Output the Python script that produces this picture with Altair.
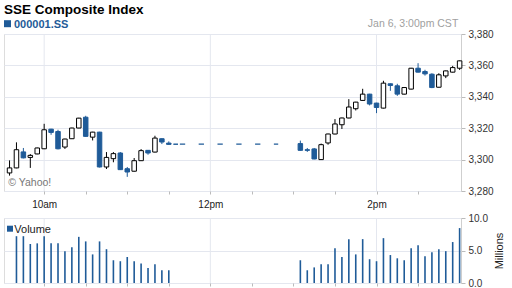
import altair as alt
import pandas as pd

BLUE = "#1f5b98"
GRID = "#e4e7ef"
FRAME = "#cfcfcf"

# ---- data ----
candle_times = ["9:35", "9:40", "9:45", "9:50", "9:55", "10:00", "10:05", "10:10", "10:15", "10:20",
                "10:25", "10:30", "10:35", "10:40", "10:45", "10:50", "10:55", "11:00", "11:05", "11:10",
                "11:15", "11:20", "11:25", "11:30", "11:35",
                "13:05", "13:10", "13:15", "13:20", "13:25", "13:30", "13:35", "13:40", "13:45", "13:50",
                "13:55", "14:00", "14:05", "14:10", "14:15", "14:20", "14:25", "14:30", "14:35", "14:40",
                "14:45", "14:50", "14:55", "15:00"]
opens = [3291.5, 3294.7, 3304.9, 3301.4, 3303.6, 3306.9, 3319.4, 3317.9, 3308.0, 3313.3,
         3320.1, 3327.0, 3314.3, 3317.5, 3295.3, 3300.6, 3304.2, 3294.2, 3292.6, 3299.3,
         3305.9, 3304.8, 3313.3, 3310.5, 3309.8,
         3310.2, 3306.3, 3306.8, 3300.0, 3310.6, 3316.3, 3322.2, 3326.5, 3332.4, 3337.7,
         3341.7, 3336.0, 3332.8, 3348.3, 3347.0, 3341.7, 3344.9, 3358.2, 3356.1, 3354.4,
         3346.1, 3353.3, 3355.7, 3358.2]
highs = [3299.5, 3311.0, 3307.4, 3303.5, 3307.6, 3322.8, 3319.6, 3319.0, 3313.3, 3320.3,
         3326.6, 3327.9, 3317.7, 3317.7, 3304.8, 3304.8, 3304.8, 3295.3, 3301.0, 3306.7,
         3306.1, 3315.2, 3313.5, 3311.6, 3309.8,
         3312.1, 3307.4, 3307.4, 3310.2, 3316.5, 3325.8, 3326.7, 3338.5, 3336.8, 3345.1,
         3341.9, 3336.2, 3350.2, 3348.5, 3348.3, 3346.1, 3358.4, 3361.4, 3357.2, 3355.0,
         3355.0, 3356.7, 3359.7, 3363.1]
lows = [3289.8, 3294.5, 3300.8, 3294.7, 3303.4, 3306.7, 3315.8, 3306.5, 3306.8, 3313.1,
        3320.0, 3314.6, 3312.2, 3295.0, 3294.0, 3298.3, 3293.4, 3289.0, 3292.4, 3299.1,
        3303.1, 3304.6, 3309.9, 3309.5, 3309.8,
        3305.7, 3304.9, 3300.2, 3299.8, 3309.5, 3316.1, 3319.5, 3326.3, 3331.3, 3337.5,
        3334.5, 3329.6, 3332.6, 3343.8, 3340.6, 3341.5, 3344.7, 3355.5, 3353.5, 3345.5,
        3346.0, 3351.9, 3355.5, 3357.1]
closes = [3294.7, 3306.3, 3301.1, 3302.7, 3307.4, 3319.0, 3317.3, 3306.9, 3313.1, 3320.1,
          3326.4, 3314.8, 3317.5, 3295.3, 3301.4, 3303.8, 3293.6, 3292.1, 3299.3, 3305.7,
          3304.2, 3313.7, 3311.2, 3309.7, 3309.8,
          3305.9, 3305.9, 3300.4, 3309.5, 3316.3, 3322.7, 3326.5, 3333.5, 3336.6, 3341.7,
          3335.4, 3333.2, 3348.7, 3347.2, 3341.7, 3345.9, 3358.2, 3355.7, 3354.6, 3345.9,
          3354.0, 3356.5, 3358.6, 3362.9]

volume_times = ["9:40", "9:45", "9:50", "9:55", "10:00", "10:05", "10:10", "10:15", "10:20", "10:25",
                "10:30", "10:35", "10:40", "10:45", "10:50", "10:55", "11:00", "11:05", "11:10", "11:15",
                "11:20", "11:25", "11:30",
                "13:05", "13:10", "13:15", "13:20", "13:25", "13:30", "13:35", "13:40", "13:45", "13:50",
                "13:55", "14:00", "14:05", "14:10", "14:15", "14:20", "14:25", "14:30", "14:35", "14:40",
                "14:45", "14:50", "14:55", "15:00"]
volumes = [7.2, 7.2, 6.0, 6.1, 7.2, 6.1, 6.1, 4.9, 5.5, 7.1,
           6.4, 4.4, 6.4, 5.2, 3.5, 3.35, 4.0, 3.35, 3.0, 2.3,
           2.9, 1.96, 1.96,
           3.5, 1.96, 2.4, 2.9, 2.9, 5.36, 4.0, 6.75, 4.4, 6.75,
           3.66, 3.35, 6.9, 4.3, 3.8, 3.5, 5.36, 5.8, 4.1, 4.74,
           5.2, 4.9, 6.3, 8.45]

grid_times = ["10:00", "12:00", "14:00"]
tick_times = ["10:00", "10:30", "11:00", "11:30", "12:00", "12:30", "13:00", "13:30", "14:00", "14:30"]
price_ticks = [3280, 3300, 3320, 3340, 3360, 3380]
volume_ticks = [0, 5, 10]
lunch_start, lunch_end, lunch_level = "11:38", "12:49", 3309.8


def to_min(s):
    h, m = s.split(":")
    return int(h) * 60 + int(m)


candles = pd.DataFrame({
    "t": [to_min(s) for s in candle_times],
    "open": opens, "high": highs, "low": lows, "close": closes,
})
candles["dir"] = ["up" if c > o else "down" for o, c in zip(opens, closes)]
vol_df = pd.DataFrame({"t": [to_min(s) for s in volume_times], "vol": volumes})
grid_df = pd.DataFrame({"t": [to_min(s) for s in grid_times]})
lunch_df = pd.DataFrame({"t": [to_min(lunch_start)], "t2": [to_min(lunch_end)], "level": [lunch_level]})
one = pd.DataFrame({"a": [0]})

W = 457
xs = alt.Scale(domain=[571, 901], nice=False, zero=False, padding=0)
ys = alt.Scale(domain=[3280, 3380], nice=False, zero=False, padding=0)
vs = alt.Scale(domain=[0, 10], nice=False, zero=True, padding=0)
tick_vals = [to_min(s) for s in tick_times]

x_axis_top = alt.Axis(values=tick_vals, grid=False, domain=False, tickSize=3, tickColor="#bbbbbb",
                      labelExpr="datum.value == 600 ? '10am' : datum.value == 720 ? '12pm' : datum.value == 840 ? '2pm' : ''",
                      labelFontSize=10, labelColor="#222222", labelPadding=5, labelOverlap=False,
                      labelFlush=False, title=None)
x_axis_vol = alt.Axis(values=tick_vals, grid=False, domain=False, tickSize=3, tickColor="#bbbbbb",
                      labels=False, title=None)
y_axis_top = alt.Axis(orient="right", values=price_ticks, format=",.0f", grid=True, gridColor=GRID,
                      domainColor=FRAME, tickColor="#bbbbbb", tickSize=4, labelPadding=3,
                      labelFontSize=10, labelColor="#333333", title=None)
y_axis_vol = alt.Axis(orient="right", values=volume_ticks, format=".1f", grid=True, gridColor=GRID,
                      domainColor=FRAME, tickColor="#bbbbbb", tickSize=4, labelPadding=3,
                      labelFontSize=10, labelColor="#333333", title="Millions", titleAngle=270,
                      titleFontSize=11, titleFontWeight="normal", titleColor="#222222", titlePadding=17)

def X(field, axis):
    return alt.X(f"{field}:Q", scale=xs, axis=axis)

dir_color = alt.Scale(domain=["up", "down"], range=["#000000", BLUE])
dir_fill = alt.Scale(domain=["up", "down"], range=["#ffffff", BLUE])

grid_top = alt.Chart(grid_df).mark_rule(color=GRID, strokeWidth=1).encode(x=X("t", x_axis_top))
lunch = alt.Chart(lunch_df).mark_rule(color=BLUE, strokeWidth=1.2, strokeDash=[5.3, 13.5]).encode(
    x=X("t", x_axis_top), x2="t2:Q", y=alt.Y("level:Q", scale=ys, axis=y_axis_top))
wicks = alt.Chart(candles).mark_rule(strokeWidth=1).encode(
    x=X("t", x_axis_top),
    y=alt.Y("low:Q", scale=ys, axis=y_axis_top), y2="high:Q",
    color=alt.Color("dir:N", scale=dir_color, legend=None))
bodies = alt.Chart(candles).mark_bar(size=4.5, strokeWidth=1).encode(
    x=X("t", x_axis_top),
    y=alt.Y("open:Q", scale=ys, axis=y_axis_top), y2="close:Q",
    fill=alt.Fill("dir:N", scale=dir_fill, legend=None),
    stroke=alt.Stroke("dir:N", scale=dir_color, legend=None))

title_txt = alt.Chart(one).mark_text(text="SSE Composite Index", align="left", baseline="alphabetic",
                                     font="Liberation Sans", fontSize=13.5, fontWeight="bold",
                                     color="#000000").encode(x=alt.value(0), y=alt.value(-20.5))
ticker_sq = alt.Chart(one).mark_square(size=49, color=BLUE, opacity=1).encode(
    x=alt.value(3.5), y=alt.value(-10.3))
ticker_txt = alt.Chart(one).mark_text(text="000001.SS", align="left", baseline="alphabetic",
                                      font="Liberation Sans", fontSize=11, fontWeight="bold",
                                      color=BLUE).encode(x=alt.value(10), y=alt.value(-6.5))
date_txt = alt.Chart(one).mark_text(text="Jan 6, 3:00pm CST", align="right", baseline="alphabetic",
                                    font="Liberation Sans", fontSize=10.5, color="#a0a0a0").encode(
    x=alt.value(454.3), y=alt.value(-6.7))
yahoo_txt = alt.Chart(one).mark_text(text="\u00a9 Yahoo!", align="left", baseline="alphabetic",
                                     font="Liberation Sans", fontSize=10.5, color="#777777").encode(
    x=alt.value(4.3), y=alt.value(152.3))

top = alt.layer(grid_top, lunch, wicks, bodies, yahoo_txt, title_txt, ticker_sq, ticker_txt, date_txt
                ).properties(width=W, height=157)

grid_vol = alt.Chart(grid_df).mark_rule(color=GRID, strokeWidth=1).encode(x=X("t", x_axis_vol))
vol_bars = alt.Chart(vol_df).mark_bar(size=1.6, color=BLUE).encode(
    x=X("t", x_axis_vol), y=alt.Y("vol:Q", scale=vs, axis=y_axis_vol))
vol_sq = alt.Chart(one).mark_square(size=36, color=BLUE, opacity=1).encode(
    x=alt.value(6), y=alt.value(10.7))
vol_txt = alt.Chart(one).mark_text(text="Volume", align="left", baseline="alphabetic",
                                   font="Liberation Sans", fontSize=11, color="#222222").encode(
    x=alt.value(10.3), y=alt.value(15))

vol = alt.layer(grid_vol, vol_bars, vol_sq, vol_txt).properties(width=W, height=65)

chart = alt.vconcat(top, vol, spacing=2).properties(
    padding={"left": 3, "top": 2, "right": 0, "bottom": 0}
).configure_view(stroke=FRAME, strokeWidth=1).configure(
    font="Liberation Sans", background="white"
).configure_axis(labelFont="Liberation Sans", titleFont="Liberation Sans")

chart.save("out.html", embed_options={"renderer": "svg", "actions": False})
